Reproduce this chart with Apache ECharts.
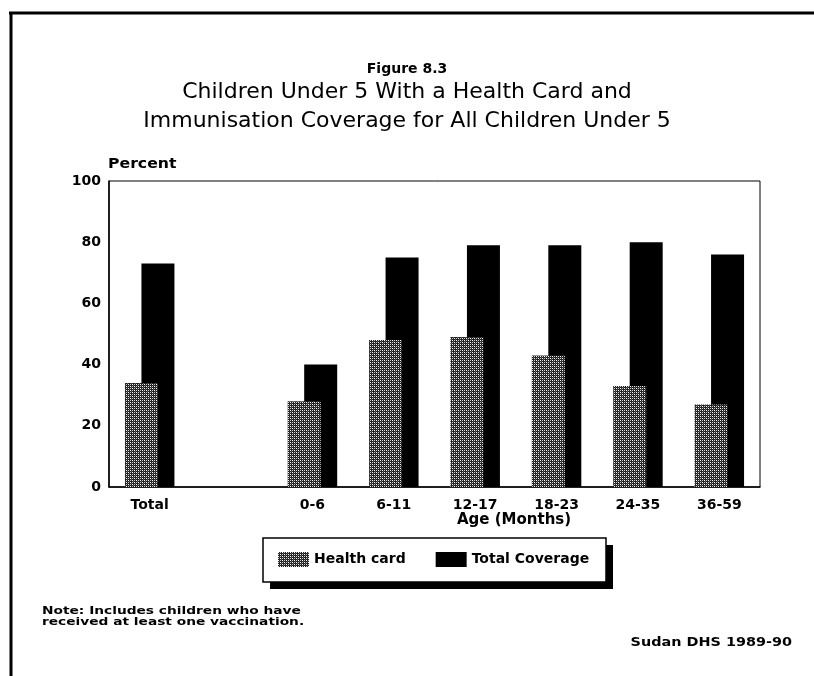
<!DOCTYPE html>
<html>
<head>
<meta charset="utf-8">
<script src="https://cdn.jsdelivr.net/npm/echarts@6/dist/echarts.min.js"></script>
<style>
  html, body { margin: 0; padding: 0; background: #fff; }
</style>
</head>
<body>
<div id="chart" style="width: 814px;height:676px;"></div>
<script>
var categories = ['Total', '', '0-6', '6-11', '12-17', '18-23', '24-35', '36-59']
var healthCard = [34, '-', 28, 48, 49, 43, 33, 27]
var totalCoverage = [73, '-', 40, 75, 79, 79, 80, 76]
var yTicks = [0, 20, 40, 60, 80, 100]

// stipple fill for the health card bars
function stipple() {
  var c = document.createElement('canvas')
  c.width = 4
  c.height = 4
  var ctx = c.getContext('2d')
  ctx.fillStyle = '#222'
  ctx.fillRect(0, 0, 4, 4)
  ctx.fillStyle = '#fff'
  ctx.fillRect(0, 0, 1, 1)
  ctx.fillRect(2, 2, 1, 1)
  ctx.fillStyle = '#ccc'
  ctx.fillRect(2, 0, 1, 1)
  ctx.fillRect(0, 2, 1, 1)
  ctx.fillStyle = '#555'
  ctx.fillRect(1, 1, 1, 1)
  ctx.fillRect(3, 3, 1, 1)
  return {image: c, repeat: 'repeat'}
}

var font = 'DejaVu Sans'
var chart = echarts.init(document.getElementById('chart'))

var option = {
  animation: false,
  backgroundColor: '#fff',
  title: [
    {
      text: 'Figure 8.3',
      left: 'center',
      top: 57,
      textStyle: {fontFamily: font, fontSize: 14, fontWeight: 'bold', color: '#000'}
    },
    {
      text: 'Children Under 5 With a Health Card and',
      left: 'center',
      top: 76,
      textStyle: {fontFamily: font, fontSize: 22, fontWeight: 'normal', color: '#000'}
    },
    {
      text: 'Immunisation Coverage for All Children Under 5',
      left: 'center',
      top: 105,
      textStyle: {fontFamily: font, fontSize: 22, fontWeight: 'normal', color: '#000'}
    }
  ],
  legend: {
    data: ['Health card', 'Total Coverage'],
    left: 278,
    top: 552,
    z: 10,
    icon: 'rect',
    itemWidth: 31,
    itemHeight: 15,
    itemGap: 30,
    padding: 0,
    textStyle: {fontFamily: font, fontSize: 14, fontWeight: 'bold', color: '#000'}
  },
  grid: {
    left: 109,
    top: 181,
    width: 651,
    height: 306,
    show: true,
    borderColor: '#000',
    borderWidth: 1
  },
  xAxis: {
    type: 'category',
    data: categories,
    axisLine: {lineStyle: {color: '#000', width: 1.5}},
    axisTick: {show: false},
    axisLabel: {interval: 0, margin: 11, fontFamily: font, fontSize: 14, fontWeight: 'bold', color: '#000'}
  },
  yAxis: {
    type: 'value',
    min: yTicks[0],
    max: yTicks[yTicks.length - 1],
    interval: 20,
    axisLine: {show: true, lineStyle: {color: '#000', width: 1.5}},
    axisTick: {show: false},
    splitLine: {show: false},
    axisLabel: {margin: 8, fontFamily: font, fontSize: 14, fontWeight: 'bold', color: '#000'}
  },
  series: [
    {
      name: 'Health card',
      type: 'bar',
      z: 3,
      barWidth: 33,
      barGap: '-50%',
      itemStyle: {color: stipple()},
      data: healthCard
    },
    {
      name: 'Total Coverage',
      type: 'bar',
      z: 2,
      barWidth: 33,
      barGap: '-50%',
      itemStyle: {color: '#000'},
      data: totalCoverage
    }
  ],
  graphic: [
    // page frame: top rule and left rule
    {type: 'line', shape: {x1: 9, y1: 13, x2: 814, y2: 13}, style: {stroke: '#000', lineWidth: 3}},
    {type: 'line', shape: {x1: 11, y1: 12, x2: 11, y2: 676}, style: {stroke: '#000', lineWidth: 3}},
    // legend box with drop shadow
    {type: 'rect', z: 1, shape: {x: 270, y: 545, width: 343, height: 44}, style: {fill: '#000'}},
    {type: 'rect', z: 2, shape: {x: 263, y: 538, width: 343, height: 44}, style: {fill: '#fff', stroke: '#000', lineWidth: 1.5}},
    {
      type: 'text', x: 108, y: 164, scaleX: 1.12,
      style: {text: 'Percent', font: 'bold 14px "DejaVu Sans"', fill: '#000', textVerticalAlign: 'middle'}
    },
    {
      type: 'text', left: 457, top: 513,
      style: {text: 'Age (Months)', font: 'bold 15px "DejaVu Sans"', fill: '#000'}
    },
    {
      type: 'text', x: 42, y: 606, scaleX: 1.25,
      style: {
        text: 'Note: Includes children who have\nreceived at least one vaccination.',
        font: 'bold 11px "DejaVu Sans"', lineHeight: 11, fill: '#000'
      }
    },
    {
      type: 'text', x: 792, y: 643, scaleX: 1.2,
      style: {text: 'Sudan DHS 1989-90', font: 'bold 12px "DejaVu Sans"', fill: '#000', textAlign: 'right', textVerticalAlign: 'middle'}
    }
  ]
}
chart.setOption(option, true)
</script>
</body>
</html>
